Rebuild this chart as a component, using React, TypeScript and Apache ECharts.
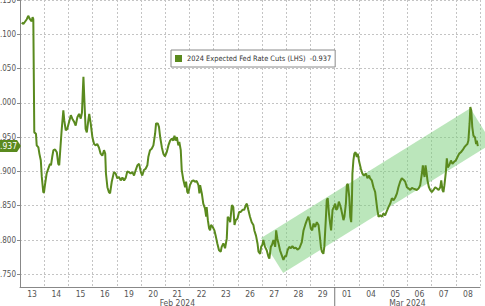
import React, { useEffect, useRef } from "react";
import * as echarts from "echarts";

const dayLabels = ["13", "14", "15", "16", "19", "20", "21", "22", "23", "26", "27", "28", "29", "01", "04", "05", "06", "07", "08"];
const monthLabelPos = [6.5, 16];
const monthLabelText = ["Feb 2024", "Mar 2024"];
const monthBreaks = [13];

const seriesName = "2024 Expected Fed Rate Cuts (LHS)";
const lastValueText = "-0.937";
const lastValue = 0.937;

const rateX = [
  0.07, 0.14, 0.28, 0.34, 0.41, 0.48, 0.52, 0.55, 0.59, 0.66, 0.69, 0.76, 0.8, 0.86, 0.9, 0.96, 0.99,
  1.03, 1.1, 1.17, 1.24, 1.28, 1.33, 1.38, 1.45, 1.52, 1.58, 1.62, 1.68, 1.72, 1.79, 1.83, 1.89, 1.95,
  2.04, 2.1, 2.16, 2.24, 2.3, 2.37, 2.44, 2.51, 2.56, 2.59, 2.62, 2.66, 2.71, 2.76, 2.82, 2.86, 2.92, 2.99,
  3.06, 3.13, 3.19, 3.26, 3.33, 3.4, 3.47, 3.52, 3.55, 3.61, 3.67, 3.72, 3.79, 3.88, 3.95,
  4.02, 4.09, 4.16, 4.23, 4.3, 4.37, 4.43, 4.5, 4.57, 4.64, 4.71, 4.78, 4.85, 4.92, 4.99,
  5.05, 5.12, 5.19, 5.26, 5.3, 5.37, 5.44, 5.51, 5.58, 5.62, 5.69, 5.74, 5.79, 5.86, 5.92, 5.99,
  6.06, 6.13, 6.2, 6.27, 6.33, 6.38, 6.43, 6.48, 6.54, 6.58, 6.64, 6.68, 6.75, 6.82, 6.86, 6.91, 6.95,
  7.02, 7.1, 7.16, 7.23, 7.3, 7.37, 7.41, 7.44, 7.51, 7.57, 7.64, 7.69, 7.71, 7.76, 7.81, 7.85, 7.89, 7.96,
  8.03, 8.09, 8.15, 8.22, 8.29, 8.33, 8.4, 8.47, 8.54, 8.58, 8.64, 8.68, 8.75, 8.81, 8.86, 8.91, 8.98,
  9.05, 9.12, 9.19, 9.26, 9.33, 9.37, 9.43, 9.5, 9.57, 9.64, 9.68, 9.75, 9.81, 9.85, 9.92, 9.96,
  10.01, 10.05, 10.12, 10.19, 10.26, 10.3, 10.36, 10.41, 10.47, 10.54, 10.58, 10.63, 10.69, 10.74, 10.81, 10.88, 10.95, 10.99,
  11.05, 11.12, 11.19, 11.25, 11.32, 11.39, 11.46, 11.54, 11.64, 11.71, 11.78, 11.85, 11.91, 11.95,
  12.01, 12.07, 12.12, 12.19, 12.26, 12.33, 12.37, 12.43, 12.47, 12.53, 12.57, 12.63, 12.67, 12.71, 12.76, 12.81, 12.85, 12.91, 12.96,
  13.02, 13.06, 13.11, 13.17, 13.22, 13.26, 13.32, 13.36, 13.4, 13.46, 13.5, 13.54, 13.6, 13.64, 13.68, 13.71, 13.73, 13.77, 13.81, 13.86, 13.91, 13.95,
  14.01, 14.08, 14.14, 14.21, 14.29, 14.35, 14.42, 14.46, 14.53, 14.6, 14.67, 14.71, 14.76, 14.81, 14.88, 14.95,
  15.01, 15.08, 15.15, 15.22, 15.29, 15.36, 15.43, 15.5, 15.57, 15.63, 15.7, 15.77, 15.84, 15.91, 15.98,
  16.05, 16.12, 16.19, 16.25, 16.32, 16.39, 16.46, 16.53, 16.6, 16.64, 16.67, 16.71, 16.75, 16.79, 16.83, 16.89, 16.94,
  17.01, 17.08, 17.15, 17.22, 17.29, 17.36, 17.4, 17.45, 17.49, 17.53, 17.59, 17.63, 17.67, 17.73, 17.8, 17.86, 17.93,
  18.0, 18.07, 18.14, 18.21, 18.28, 18.35, 18.42, 18.48, 18.52, 18.57, 18.6, 18.64, 18.68, 18.73, 18.79, 18.84, 18.87, 18.91,
];

const rateY = [
  1.117, 1.115, 1.122, 1.127, 1.122, 1.119, 1.125, 1.122, 0.957, 0.955, 0.938, 0.935, 0.926, 0.916, 0.892, 0.87, 0.869,
  0.88, 0.897, 0.904, 0.911, 0.909, 0.921, 0.931, 0.932, 0.928, 0.911, 0.909, 0.94, 0.96, 0.989, 0.974, 0.96, 0.962,
  0.974, 0.982, 0.977, 0.972, 0.967, 0.979, 0.984, 0.977, 0.986, 1.013, 1.038, 1.003, 0.962, 0.957, 0.974, 0.984, 0.97, 0.95,
  0.94, 0.938, 0.94, 0.935, 0.926, 0.923, 0.931, 0.926, 0.897, 0.877, 0.87, 0.868, 0.885, 0.899, 0.897,
  0.89, 0.892, 0.887, 0.891, 0.887, 0.891, 0.9, 0.899, 0.897, 0.899, 0.894, 0.902, 0.909, 0.911, 0.899,
  0.894, 0.902, 0.904, 0.909, 0.921, 0.931, 0.933, 0.938, 0.955, 0.97, 0.97, 0.965, 0.95, 0.935, 0.926, 0.922,
  0.928, 0.938, 0.945, 0.948, 0.945, 0.952, 0.945, 0.95, 0.938, 0.943, 0.931, 0.902, 0.887, 0.877, 0.885, 0.87, 0.868,
  0.88, 0.886, 0.887, 0.885, 0.886, 0.88, 0.868, 0.88, 0.868, 0.853, 0.846, 0.834, 0.848, 0.829, 0.817, 0.814, 0.822, 0.819,
  0.814, 0.805, 0.795, 0.785, 0.783, 0.79, 0.795, 0.788, 0.802, 0.834, 0.831, 0.826, 0.851, 0.848, 0.822, 0.829, 0.831,
  0.841, 0.841, 0.844, 0.844, 0.851, 0.853, 0.844, 0.834, 0.826, 0.822, 0.814, 0.806, 0.795, 0.783, 0.78, 0.79,
  0.793, 0.8, 0.79, 0.785, 0.776, 0.773, 0.79, 0.793, 0.8, 0.79, 0.814, 0.802, 0.793, 0.785, 0.778, 0.771, 0.777, 0.776,
  0.785, 0.79, 0.788, 0.791, 0.788, 0.789, 0.786, 0.788, 0.797, 0.814, 0.822, 0.829, 0.834, 0.829,
  0.817, 0.814, 0.824, 0.819, 0.826, 0.822, 0.81, 0.79, 0.783, 0.78, 0.79, 0.829, 0.858, 0.861, 0.839, 0.824, 0.814, 0.844, 0.848,
  0.853, 0.844, 0.846, 0.856, 0.851, 0.846, 0.836, 0.829, 0.834, 0.853, 0.88, 0.882, 0.863, 0.834, 0.826, 0.858, 0.897, 0.916, 0.926, 0.928, 0.921, 0.926,
  0.914, 0.904, 0.897, 0.894, 0.897, 0.89, 0.894, 0.89, 0.887, 0.877, 0.87, 0.858, 0.844, 0.834, 0.836, 0.834,
  0.839, 0.836, 0.842, 0.848, 0.853, 0.861, 0.858, 0.862, 0.868, 0.877, 0.885, 0.89, 0.888, 0.885, 0.877,
  0.875, 0.873, 0.876, 0.875, 0.874, 0.873, 0.875, 0.88, 0.897, 0.909, 0.899, 0.892, 0.909, 0.899, 0.887, 0.877, 0.873,
  0.87, 0.873, 0.877, 0.875, 0.873, 0.877, 0.887, 0.873, 0.87, 0.88, 0.899, 0.919, 0.906, 0.909, 0.916, 0.911, 0.914,
  0.916, 0.921, 0.926, 0.928, 0.931, 0.935, 0.938, 0.94, 0.945, 0.97, 0.994, 0.989, 0.965, 0.952, 0.95, 0.94, 0.945, 0.937,
];

// trend channel corners (upper-left, upper-right, lower-right, lower-left)
const bandX = [9.96, 18.6, 19.5, 10.87];
const bandY = [0.803, 0.992, 0.941, 0.752];

const yMin = 0.7315;
const yMax = 1.15;

const LINE_COLOR = "#5a8a1e";
const FONT = "'Liberation Sans Narrow', 'DejaVu Sans Condensed', 'Liberation Sans', Arial, sans-serif";

export default function App() {
  const ref = useRef<HTMLDivElement>(null);

  useEffect(() => {
    if (!ref.current) return;
    const chart = echarts.init(ref.current, null, { renderer: "svg" });
    const lineData = rateX.map((x, i) => [x, rateY[i]]);

    chart.setOption({
      animation: false,
      backgroundColor: "#ffffff",
      textStyle: { fontFamily: FONT },
      grid: { left: 20, right: 5, top: 0, bottom: 19, containLabel: false, outerBoundsMode: "none" },
      legend: {
        show: true,
        left: 171,
        top: 50,
        padding: [3, 4, 3, 4],
        backgroundColor: "#ffffff",
        borderColor: "#8a8a8a",
        borderWidth: 1,
        itemWidth: 7,
        itemHeight: 7,
        itemGap: 4,
        data: [{ name: seriesName, icon: "rect", itemStyle: { color: LINE_COLOR } }],
        formatter: (name: string) => name + "  " + lastValueText,
        textStyle: { fontSize: 7.4, color: "#333", fontFamily: FONT, padding: [1, 0, 0, 0], lineHeight: 10 },
      },
      xAxis: [
        {
          type: "value",
          min: 0,
          max: dayLabels.length,
          interval: 1,
          axisLine: { show: true, lineStyle: { color: "#888", width: 1 } },
          axisTick: { show: false },
          axisLabel: { show: false },
          splitLine: { show: true, lineStyle: { color: "#c4c4c4", type: [2, 2], width: 1 } },
        },
        {
          type: "value",
          position: "bottom",
          min: 0,
          max: dayLabels.length,
          interval: 0.5,
          axisLine: { show: false },
          axisTick: { show: false },
          splitLine: { show: false },
          axisLabel: {
            show: true,
            margin: 2,
            fontSize: 8.5,
            color: "#555",
            fontFamily: FONT,
            showMinLabel: true,
            showMaxLabel: true,
            formatter: (v: number) => {
              const idx = v - 0.5;
              if (Math.abs(idx - Math.round(idx)) > 1e-6) return "";
              return dayLabels[Math.round(idx)] ?? "";
            },
          },
        },
        {
          type: "value",
          position: "bottom",
          offset: 9,
          min: 0,
          max: dayLabels.length,
          interval: 0.5,
          axisLine: { show: false },
          axisTick: { show: false },
          splitLine: { show: false },
          axisLabel: {
            show: true,
            margin: 2,
            fontSize: 8.5,
            color: "#555",
            fontFamily: FONT,
            formatter: (v: number) => {
              const k = monthLabelPos.findIndex((p) => Math.abs(p - v) < 1e-6);
              return k >= 0 ? monthLabelText[k] : "";
            },
          },
        },
      ],
      yAxis: {
        type: "value",
        min: yMin,
        max: yMax,
        splitNumber: 8,
        name: "Fed Cuts",
        nameLocation: "middle",
        nameGap: 13,
        nameRotate: 90,
        nameTextStyle: { color: "#d6d6d6", fontSize: 11, fontFamily: FONT },
        axisLine: { show: true, lineStyle: { color: "#888", width: 1 } },
        axisTick: { show: true, length: 3, lineStyle: { color: "#888" } },
        axisLabel: {
          margin: 4,
          fontSize: 8,
          color: "#555",
          fontFamily: FONT,
          showMinLabel: false,
          formatter: (v: number) => {
            if (Math.abs(v * 20 - Math.round(v * 20)) > 1e-6) return "";
            return v.toFixed(3);
          },
        },
        splitLine: { show: true, lineStyle: { color: "#c4c4c4", type: [2, 2], width: 1 } },
      },
      series: [
        {
          type: "custom",
          xAxisIndex: 0,
          yAxisIndex: 0,
          silent: true,
          clip: false,
          z: 1,
          data: [[bandX[0], bandY[0]]],
          renderItem: (_params: any, api: any) => {
            const pts = bandX.map((x, i) => api.coord([x, bandY[i]]));
            return {
              type: "polygon",
              shape: { points: pts },
              style: { fill: "rgba(120, 205, 120, 0.5)" },
            };
          },
        },
        {
          name: seriesName,
          type: "line",
          xAxisIndex: 0,
          yAxisIndex: 0,
          z: 3,
          showSymbol: false,
          symbol: "none",
          data: lineData,
          lineStyle: { color: LINE_COLOR, width: 2 },
          itemStyle: { color: LINE_COLOR },
        },
      ],
    });

    const gfx: any[] = monthBreaks.map((b) => {
      const p = chart.convertToPixel({ xAxisIndex: 0, yAxisIndex: 0 }, [b, yMin]) as number[];
      return {
        type: "line",
        shape: { x1: p[0], y1: p[1], x2: p[0], y2: p[1] + 19 },
        style: { stroke: "#777", lineWidth: 1 },
        z: 10,
      };
    });
    const t = chart.convertToPixel({ xAxisIndex: 0, yAxisIndex: 0 }, [0, lastValue]) as number[];
    const tx = t[0];
    const ty = t[1];
    gfx.push({
      type: "polygon",
      z: 20,
      shape: {
        points: [
          [tx - 26, ty - 6],
          [tx - 3, ty - 6],
          [tx + 1, ty],
          [tx - 3, ty + 6],
          [tx - 26, ty + 6],
        ],
      },
      style: { fill: LINE_COLOR },
    });
    gfx.push({
      type: "text",
      z: 21,
      x: tx - 3,
      y: ty,
      style: {
        text: lastValue.toFixed(3),
        fill: "#ffffff",
        fontSize: 8.5,
        fontFamily: FONT,
        align: "right",
        verticalAlign: "middle",
      },
    });
    chart.setOption({ graphic: gfx });

    return () => chart.dispose();
  }, []);

  return <div ref={ref} style={{ width: 485, height: 306, position: "absolute", left: 0, top: 0 }} />;
}
